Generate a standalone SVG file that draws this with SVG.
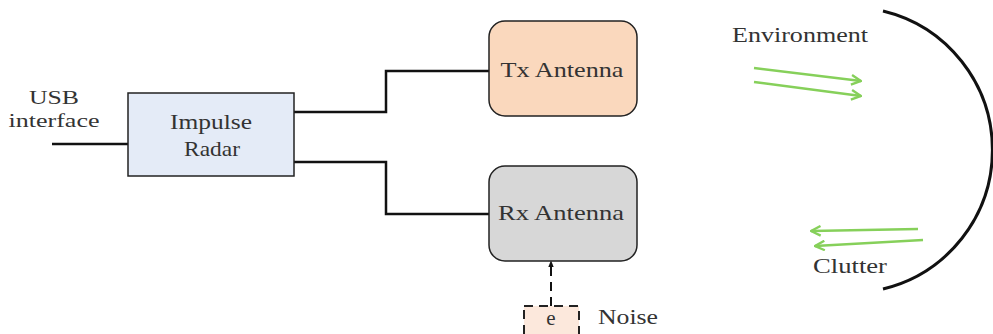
<svg xmlns="http://www.w3.org/2000/svg" width="993" height="334" viewBox="0 0 993 334">
<defs>
<style>
text{font-family:"Liberation Serif","Times New Roman",serif;font-size:21px;fill:#333;}
.sm{font-size:19px;}
.box{stroke:#222;stroke-width:1.5;}
.wire{fill:none;stroke:#111;stroke-width:2.5;}
.green{fill:none;stroke:#86d05a;stroke-width:2.5;}
</style>
<marker id="ga" viewBox="0 0 10 10" refX="9" refY="5" markerWidth="12" markerHeight="12" orient="auto" markerUnits="userSpaceOnUse">
<path d="M1,1 L9,5 L1,9" fill="none" stroke="#86d05a" stroke-width="2"/>
</marker>
<marker id="ka" viewBox="0 0 10 10" refX="9" refY="5" markerWidth="7" markerHeight="7" orient="auto" markerUnits="userSpaceOnUse">
<path d="M0,1 L10,5 L0,9 z" fill="#111"/>
</marker>
</defs>
<rect width="993" height="334" fill="#fff"/>
<g id="connectors">
<path class="wire" d="M52,144 H128"/>
<path class="wire" d="M294,112 H386 V71 H489"/>
<path class="wire" d="M294,162 H386 V214 H489"/>
<path d="M551,306 V261" fill="none" stroke="#111" stroke-width="2" stroke-dasharray="9,6" marker-end="url(#ka)"/>
</g>
<g id="usb">
<text class="sm" x="54" y="104" text-anchor="middle" textLength="50" lengthAdjust="spacingAndGlyphs">USB</text>
<text class="sm" x="54" y="127" text-anchor="middle" textLength="91" lengthAdjust="spacingAndGlyphs">interface</text>
</g>
<g id="impulse-radar">
<rect class="box" x="128" y="93" width="166" height="83" fill="#e4ebf7"/>
<text x="211" y="129" text-anchor="middle" textLength="82" lengthAdjust="spacingAndGlyphs">Impulse</text>
<text x="212" y="156" text-anchor="middle" textLength="56" lengthAdjust="spacingAndGlyphs">Radar</text>
</g>
<g id="tx-antenna">
<rect class="box" x="489" y="21" width="148" height="95" rx="16" fill="#fad8bd"/>
<text x="562" y="77" text-anchor="middle" textLength="123" lengthAdjust="spacingAndGlyphs">Tx Antenna</text>
</g>
<g id="rx-antenna">
<rect class="box" x="489" y="166" width="148" height="95" rx="16" fill="#d7d7d7"/>
<text x="561" y="220" text-anchor="middle" textLength="126" lengthAdjust="spacingAndGlyphs">Rx Antenna</text>
</g>
<g id="noise">
<rect x="524" y="306" width="55" height="34" fill="#fce8dc" stroke="#222" stroke-width="2" stroke-dasharray="9,6"/>
<text x="551" y="325" text-anchor="middle">e</text>
<text x="598" y="324" textLength="60" lengthAdjust="spacingAndGlyphs">Noise</text>
</g>
<g id="environment">
<path d="M883,11 A143,143 0 0 1 883,289" fill="none" stroke="#111" stroke-width="3"/>
<text x="732" y="42" textLength="136" lengthAdjust="spacingAndGlyphs">Environment</text>
<path class="green" d="M754,68 L861,81" marker-end="url(#ga)"/>
<path class="green" d="M754,82 L861,96" marker-end="url(#ga)"/>
<path class="green" d="M918,229 L811,231" marker-end="url(#ga)"/>
<path class="green" d="M923,240 L815,246" marker-end="url(#ga)"/>
<text x="813" y="273" textLength="74" lengthAdjust="spacingAndGlyphs">Clutter</text>
</g>
</svg>
